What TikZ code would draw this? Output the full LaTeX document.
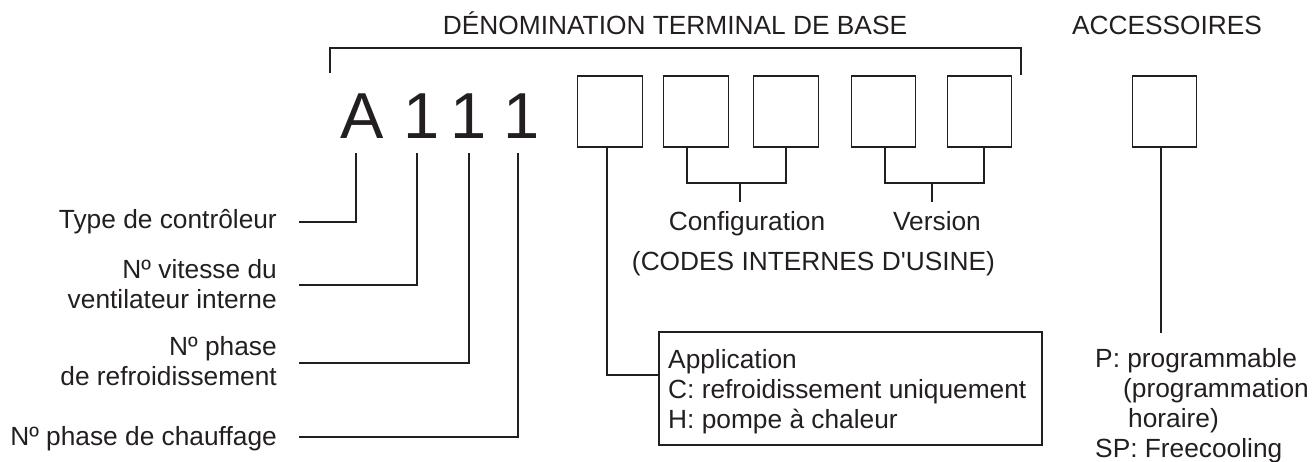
\documentclass[tikz,border=0pt]{standalone}
\usepackage{fontspec}
\setmainfont{Liberation Sans}
\newfontfamily\plainfont{Liberation Sans}
\definecolor{ink}{RGB}{35,31,32}
\tikzset{
  lbl/.style={font=\fontsize{26.3}{30}\selectfont, inner sep=0pt, text=ink},
  big/.style={font=\fontsize{65}{70}\selectfont, inner sep=0pt, text=ink, anchor=base},
  cell/.style={draw=ink, line width=1.3pt, minimum width=64.5pt, minimum height=71pt, inner sep=0pt},
  wire/.style={draw=ink, line width=1.2pt},
}
\begin{document}
\begin{tikzpicture}[x=1pt,y=-1pt]
\useasboundingbox (0,0) rectangle (1314,461);
% titles
\node[lbl, anchor=base] (title) at (675,34) {DÉNOMINATION TERMINAL DE BASE};
\node[lbl, anchor=base] (acctitle) at (1167,34) {ACCESSOIRES};
\draw[wire] (330,73) |- (1021,48) -- (1021,75);
% big glyphs
\node[big] (gA) at (362,138) {A};
\node[big] (g1) at (421.4,138) {1};
\node[big] (g2) at (468.4,138) {1};
\node[big] (g3) at (521.9,138) {1};
% cells
\node[cell] (b1) at (610,111.5) {};
\node[cell] (b2) at (696,111.5) {};
\node[cell] (b3) at (786,111.5) {};
\node[cell] (b4) at (883.5,111.5) {};
\node[cell] (b5) at (979.5,111.5) {};
\node[cell] (acc) at (1164.5,111.5) {};
% left labels (base anchor = last line)
\node[lbl, anchor=base east] (lType) at (277,228) {Type de contrôleur};
\node[lbl, anchor=base east, align=right] (lFan) at (277,308) {Nº vitesse du\\ventilateur interne};
\node[lbl, anchor=base east, align=right] (lCool) at (277,385) {Nº phase\\de refroidissement};
\node[lbl, anchor=base east] (lHeat) at (277,445) {Nº phase de chauffage};
\coordinate (tA) at (356,153);
\coordinate (t1) at (417,153);
\coordinate (t2) at (469,153);
\coordinate (t3) at (518,153);
\coordinate (eType) at (299,222);
\coordinate (eFan) at (299,285);
\coordinate (eCool) at (299,363);
\coordinate (eHeat) at (299,437);
\draw[wire] (tA) |- (eType);
\draw[wire] (t1) |- (eFan);
\draw[wire] (t2) |- (eCool);
\draw[wire] (t3) |- (eHeat);
% configuration / version
\coordinate (cfgL) at (687,147);
\coordinate (cfgR) at (786,147);
\coordinate (cfgM) at (740,183);
\coordinate (cfgE) at (740,202);
\coordinate (verL) at (885,147);
\coordinate (verR) at (984,147);
\coordinate (verM) at (932,183);
\coordinate (verE) at (932,202);
\draw[wire] (cfgL) |- (cfgM) -| (cfgR);
\draw[wire] (cfgM) -- (cfgE);
\draw[wire] (verL) |- (verM) -| (verR);
\draw[wire] (verM) -- (verE);
\node[lbl, anchor=base] (cfg) at (747,230) {Configuration};
\node[lbl, anchor=base] (ver) at (937,230) {Version};
\node[lbl, anchor=base] (codes) at (813.5,270) {(CODES INTERNES D{\plainfont\char"0027}USINE)};
% application
\node[draw=ink, line width=1.2pt, minimum width=383pt, minimum height=113pt, inner sep=0pt] (app) at (850.5,388.5) {};
\node[lbl, anchor=base west, align=left] (apptext) at (668,428) {Application\\C: refroidissement uniquement\\H: pompe à chaleur};
\coordinate (b1s) at (607,147);
\coordinate (appw) at (659,375);
\draw[wire] (b1s) |- (appw);
% accessories
\coordinate (accs) at (1161,147);
\coordinate (acce) at (1161,333);
\draw[wire] (accs) -- (acce);
\node[lbl, anchor=base west, align=left] (acctext) at (1095,457) {P: programmable\\\hspace*{28pt}(programmation\\\hspace*{33pt}horaire)\\SP: Freecooling};
\end{tikzpicture}
\end{document}
